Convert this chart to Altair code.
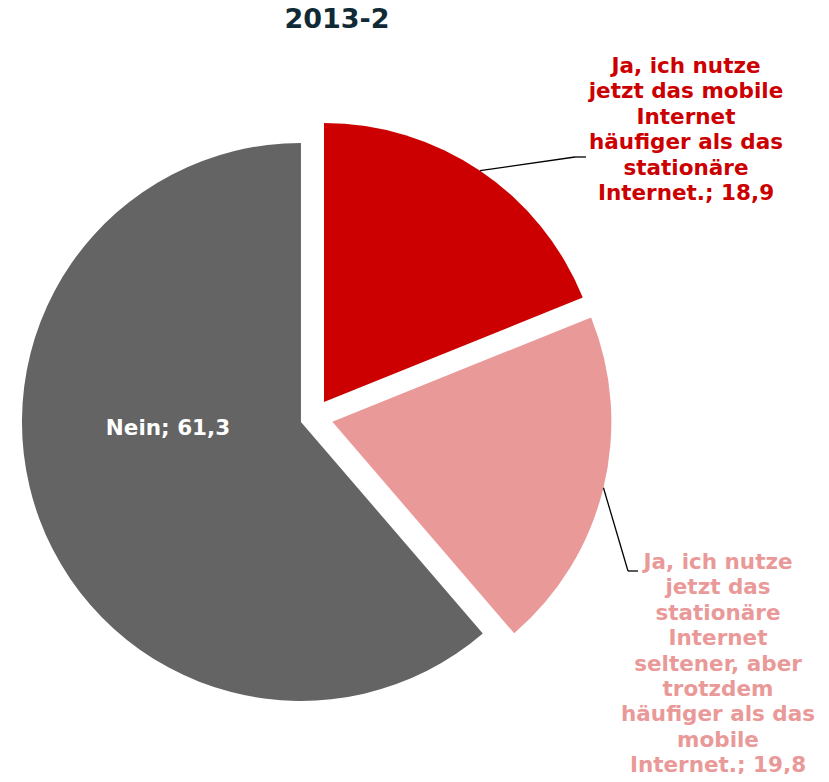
import altair as alt
import pandas as pd

# ---- data ----
title_text = "2013-2"
categories = [
    "Ja, ich nutze\njetzt das mobile\nInternet\nhäufiger als das\nstationäre\nInternet.",
    "Ja, ich nutze\njetzt das\nstationäre\nInternet\nseltener, aber\ntrotzdem\nhäufiger als das\nmobile\nInternet.",
    "Nein",
]
values = [18.9, 19.8, 61.3]
value_labels = ["18,9", "19,8", "61,3"]

# ---- style / layout ----
slice_colors = ["#CC0000", "#EA9999", "#646464"]
text_colors = ["#CC0000", "#EA9999", "#FFFFFF"]
explode = [18.4, 19.2, 13.6]
label_x = [678, 710, 160]
label_y = [59, 555, 421]
leader_has = [True, True, False]
elbow_x = [567, 620, 0]
elbow_y = [149, 563, 0]
end_x = [578, 630, 0]
CX, CY, R = 305.7, 409.2, 279
FONT = "DejaVu Sans"

df = pd.DataFrame({
    "order": list(range(len(values))),
    "cat": categories,
    "value": values,
    "vlabel": value_labels,
    "color": slice_colors,
    "tcolor": text_colors,
    "explode": explode,
    "lx": label_x,
    "ly": label_y,
    "lead": leader_has,
    "ex": elbow_x,
    "ey": elbow_y,
    "ex2": end_x,
})

base = alt.Chart(df).transform_window(
    cum="sum(value)", sort=[alt.SortField("order")]
).transform_calculate(
    start="(datum.cum - datum.value) / 100 * 2 * PI",
    end="datum.cum / 100 * 2 * PI",
).transform_calculate(
    mid="(datum.start + datum.end) / 2"
).transform_calculate(
    cx=f"{CX} + datum.explode * sin(datum.mid)",
    cy=f"{CY} - datum.explode * cos(datum.mid)",
).transform_calculate(
    ax=f"datum.cx + {R} * sin(datum.mid)",
    ay=f"datum.cy - {R} * cos(datum.mid)",
    label="datum.cat + '; ' + datum.vlabel",
)

arcs = base.mark_arc(radius=R, stroke=None).encode(
    theta=alt.Theta("start:Q", scale=None, stack=False),
    theta2="end:Q",
    x=alt.X("cx:Q", scale=None),
    y=alt.Y("cy:Q", scale=None),
    color=alt.Color("color:N", scale=None),
)

lead1 = base.transform_filter("datum.lead").mark_rule(color="black", strokeWidth=1.3).encode(
    x=alt.X("ax:Q", scale=None), y=alt.Y("ay:Q", scale=None),
    x2="ex:Q", y2="ey:Q",
)
lead2 = base.transform_filter("datum.lead").mark_rule(color="black", strokeWidth=1.3).encode(
    x=alt.X("ex:Q", scale=None), y=alt.Y("ey:Q", scale=None),
    x2="ex2:Q", y2="ey:Q",
)

labels = base.mark_text(
    font=FONT, fontSize=21.5, fontWeight="bold", lineBreak="\n", lineHeight=25.4,
    align="center", baseline="middle",
).encode(
    x=alt.X("lx:Q", scale=None),
    y=alt.Y("ly:Q", scale=None),
    text="label:N",
    color=alt.Color("tcolor:N", scale=None),
)

title = alt.Chart(pd.DataFrame({"t": [title_text]})).mark_text(
    font=FONT, fontSize=27, fontWeight="bold", color="#102A35",
    align="center", baseline="middle",
).encode(x=alt.value(329), y=alt.value(12), text="t:N")

chart = alt.layer(arcs, lead1, lead2, labels, title).properties(
    width=813, height=766, autosize=alt.AutoSizeParams(type="none"), padding=0,
).configure_view(stroke=None)

chart.save("out.html", embed_options={"renderer": "svg", "actions": False})
